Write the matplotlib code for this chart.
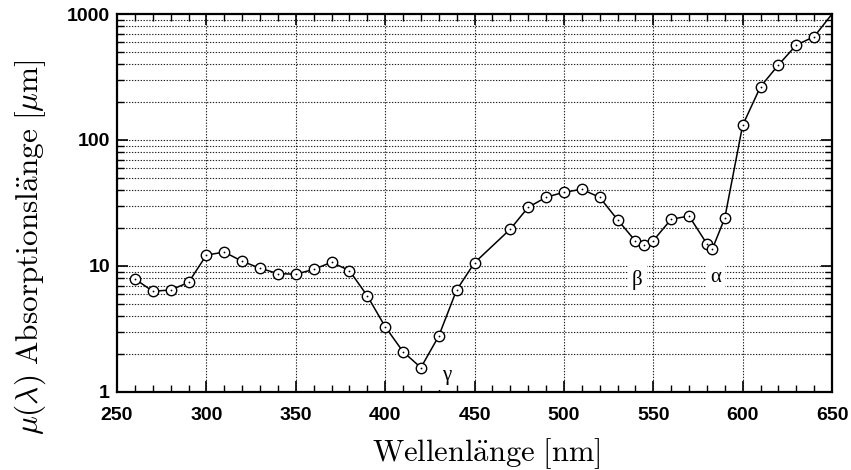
import matplotlib
matplotlib.use("Agg")
import matplotlib.pyplot as plt
from matplotlib.ticker import FixedLocator, MultipleLocator, NullFormatter

# --- data ---
wavelength = [260, 270, 280, 290, 300, 310, 320, 330, 340, 350,
              360, 370, 380, 390, 400, 410, 420, 430, 440, 450,
              470, 480, 490, 500, 510, 520, 530, 540, 545, 550,
              560, 570, 580, 583, 590, 600, 610, 620, 630, 640]
absorption_length = [7.9, 6.3, 6.45, 7.4, 12.2, 12.9, 10.9, 9.6, 8.7, 8.6,
                     9.4, 10.7, 9.2, 5.8, 3.3, 2.09, 1.56, 2.78, 6.45, 10.6,
                     19.6, 29.2, 35.1, 38.5, 40.6, 35.1, 23.3, 15.8, 14.6, 15.9,
                     23.5, 24.9, 15.0, 13.6, 24.0, 131, 265, 394, 567, 661]
# curve continues beyond the last measured point to the frame corner
tail_wavelength = [640, 650]
tail_value = [661, 1000]

band_names = ["γ", "β", "α"]
band_x = [434.5, 541, 585]
band_y = [1.34, 7.75, 8.1]

x_ticks = [250, 300, 350, 400, 450, 500, 550, 600, 650]
y_ticks = [1, 10, 100, 1000]
y_ticklabels = ["1", "10", "100", "1000"]

plt.rcParams["mathtext.fontset"] = "cm"

fig = plt.figure(figsize=(8.51, 4.70), dpi=100)
ax = fig.add_axes([0.1375, 0.166, 0.8402, 0.8042])

ax.set_yscale("log")
ax.set_xlim(250, 650)
ax.set_ylim(1, 1000)

# grid
minor_y = [m * 10 ** e for e in range(0, 3) for m in range(2, 10)]
ax.yaxis.set_major_locator(FixedLocator(y_ticks))
ax.yaxis.set_minor_locator(FixedLocator(minor_y))
ax.yaxis.set_minor_formatter(NullFormatter())
ax.set_yticklabels(y_ticklabels)
ax.xaxis.set_major_locator(FixedLocator(x_ticks))
ax.xaxis.set_minor_locator(MultipleLocator(10))

for y in y_ticks[1:-1] + minor_y:
    ax.axhline(y, color="#222222", linestyle=(0, (1.2, 1.4)), linewidth=0.8, zorder=1)
for x in x_ticks[1:-1]:
    ax.axvline(x, color="#222222", linestyle=(0, (1.2, 1.4)), linewidth=0.8, zorder=1)

# curve
ax.plot(wavelength, absorption_length, color="black", linewidth=1.1, zorder=3)
ax.plot(tail_wavelength, tail_value, color="black", linewidth=1.1, zorder=3)
ax.plot(wavelength, absorption_length, linestyle="none", marker="o",
        markersize=7.5, markerfacecolor="white", markeredgecolor="black",
        markeredgewidth=1.0, zorder=4)
ax.plot(wavelength, absorption_length, linestyle="none", marker="o",
        markersize=1.3, markerfacecolor="black", markeredgecolor="black",
        markeredgewidth=0, zorder=5)

for name, bx, by in zip(band_names, band_x, band_y):
    ax.text(bx, by, name, ha="center", va="center", fontsize=15,
            family="Liberation Serif", zorder=6,
            bbox=dict(facecolor="white", edgecolor="none", pad=3.0))

# ticks and frame
for side in ["left", "right", "top", "bottom"]:
    ax.spines[side].set_linewidth(1.6)
    ax.spines[side].set_zorder(7)
ax.tick_params(which="both", direction="in", top=True, right=True,
               colors="black")
ax.tick_params(which="major", length=8, width=1.2)
ax.tick_params(which="minor", length=5, width=1.0)
ax.tick_params(axis="x", which="major", labelsize=14, pad=11)
ax.tick_params(axis="y", which="major", labelsize=14, pad=5)
for lbl in ax.get_xticklabels() + ax.get_yticklabels():
    lbl.set_family("Liberation Sans")
    lbl.set_fontweight("bold")

ax.set_xlabel(r"$\mathrm{Wellenl\ddot{a}nge\ [nm]}$", fontsize=22)
ax.xaxis.set_label_coords(0.517, -0.118)
ax.set_ylabel(r"$\mu(\lambda)\ \mathrm{Absorptionsl\ddot{a}nge}\ [\mu\mathrm{m}]$",
              fontsize=22.5)
ax.yaxis.set_label_coords(-0.097, 0.384)

fig.savefig("out.png", dpi=100)
